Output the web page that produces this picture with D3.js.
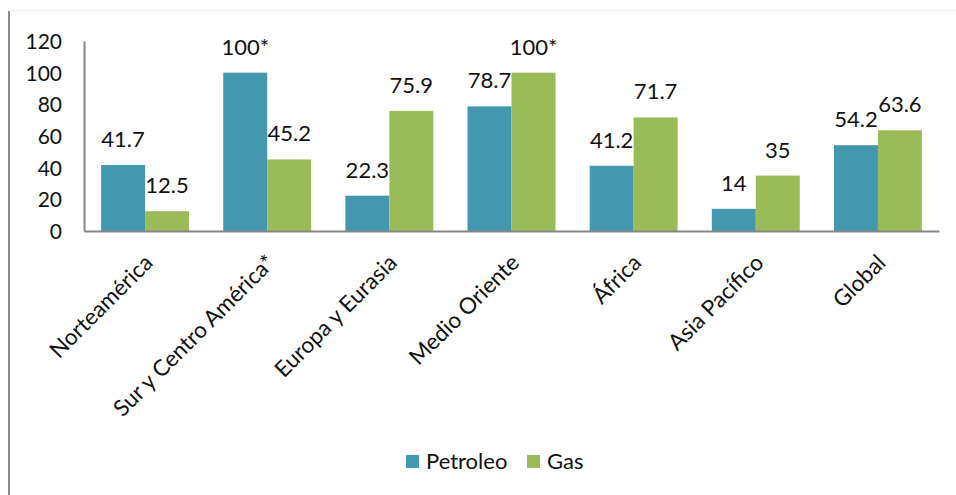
<!DOCTYPE html>
<html>
<head>
<meta charset="utf-8">
<script src="https://cdn.jsdelivr.net/npm/d3@7"></script>
<style>
  html, body { margin: 0; padding: 0; background: #fff; }
  svg { display: block; font-family: Lato, "Open Sans", sans-serif; }
</style>
</head>
<body>
<svg id="chart" width="956" height="495"></svg>
<script>
// Regions and the share values for each series
const categories = ["Norteamérica", "Sur y Centro América*", "Europa y Eurasia", "Medio Oriente", "África", "Asia Pacífico", "Global"];
const petroleo = [41.7, 100, 22.3, 78.7, 41.2, 14, 54.2];
const gas = [12.5, 45.2, 75.9, 100, 71.7, 35, 63.6];
// Footnote marks attached to value labels
const petroleoNotes = ["", "*", "", "", "", "", ""];
const gasNotes = ["", "", "", "*", "", "", ""];
const seriesNames = ["Petroleo", "Gas"];
const yTicks = [0, 20, 40, 60, 80, 100, 120];

const colors = { Petroleo: "#4397af", Gas: "#9bbb59" };
const textColor = "#111";

const svg = d3.select("#chart");
const plot = { left: 84, right: 939, top: 41, bottom: 231 };

const x = d3.scaleBand().domain(categories).range([plot.left, plot.right]).paddingInner(0.28).paddingOuter(0.14);
const x1 = d3.scaleBand().domain(seriesNames).range([0, x.bandwidth()]);
const y = d3.scaleLinear().domain([0, 120]).range([plot.bottom, plot.top]);

// Outer frame (left edge and faint top edge)
svg.append("line").attr("x1", 9).attr("x2", 9).attr("y1", 11).attr("y2", 495)
  .attr("stroke", "#8c8c8c").attr("stroke-width", 2);
svg.append("line").attr("x1", 9).attr("x2", 956).attr("y1", 10.5).attr("y2", 10.5)
  .attr("stroke", "#f2f2f2").attr("stroke-width", 1);

const rows = categories.map((c, i) => ({
  cat: c,
  values: [
    { key: "Petroleo", v: petroleo[i], note: petroleoNotes[i] },
    { key: "Gas", v: gas[i], note: gasNotes[i] }
  ]
}));

const groups = svg.append("g").selectAll("g").data(rows).join("g")
  .attr("transform", d => `translate(${x(d.cat)},0)`);

groups.selectAll("rect").data(d => d.values).join("rect")
  .attr("x", d => x1(d.key))
  .attr("width", x1.bandwidth())
  .attr("y", d => y(d.v))
  .attr("height", d => y(0) - y(d.v))
  .attr("fill", d => colors[d.key]);

groups.selectAll("text").data(d => d.values).join("text")
  .attr("x", d => x1(d.key) + x1.bandwidth() / 2)
  .attr("y", d => y(d.v) - 18)
  .attr("text-anchor", "middle")
  .attr("font-size", 22)
  .attr("fill", textColor)
  .text(d => d.v + d.note);

// Y axis
const yAxis = d3.axisLeft(y).tickValues(yTicks).tickSize(0).tickPadding(22);
const yg = svg.append("g").attr("transform", `translate(${plot.left},0)`).call(yAxis);
yg.select(".domain").attr("stroke", "#868686").attr("stroke-width", 2);
yg.selectAll("text").attr("font-size", 21).attr("fill", textColor)
  .attr("font-family", "Lato, 'Open Sans', sans-serif").attr("dy", "0.35em");

// X axis
const xAxis = d3.axisBottom(x).tickSize(0).tickPadding(0);
const xg = svg.append("g").attr("transform", `translate(0,${plot.bottom})`).call(xAxis);
xg.select(".domain").attr("stroke", "#868686").attr("stroke-width", 2);
xg.selectAll(".tick text")
  .attr("font-size", 22.5).attr("fill", textColor)
  .attr("font-family", "Lato, 'Open Sans', sans-serif")
  .attr("text-anchor", "end")
  .attr("transform", "translate(-2,22) rotate(-45)")
  .attr("y", 0).attr("dy", "0.7em");

// Legend
const legend = svg.append("g");
const legendItems = [{ name: "Petroleo", x: 406 }, { name: "Gas", x: 527 }];
legendItems.forEach(it => {
  legend.append("rect").attr("x", it.x).attr("y", 455).attr("width", 13).attr("height", 13)
    .attr("fill", colors[it.name]);
  legend.append("text").attr("x", it.x + 20).attr("y", 469).attr("font-size", 22)
    .attr("fill", textColor).text(it.name);
});
</script>
</body>
</html>
